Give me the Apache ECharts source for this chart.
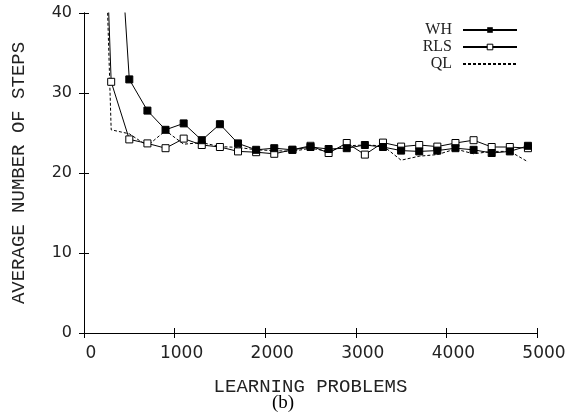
<!DOCTYPE html>
<html>
<head>
<meta charset="utf-8">
<script src="https://cdn.jsdelivr.net/npm/echarts@6/dist/echarts.min.js"></script>
<style>html,body{margin:0;padding:0;background:#fff;}#c{width:569px;height:415px;}</style>
</head>
<body>
<div id="c"></div>
<script>
// Data
var problems = [100, 300, 500, 700, 900, 1100, 1300, 1500, 1700, 1900, 2100, 2300, 2500,
                2700, 2900, 3100, 3300, 3500, 3700, 3900, 4100, 4300, 4500, 4700, 4900];
var whSteps  = [120, 67, 31.7, 27.8, 25.4, 26.2, 24.1, 26.1, 23.7, 22.9, 23.1, 22.9, 23.25,
                23.0, 23.1, 23.5, 23.25, 22.8, 22.7, 22.8, 23.1, 22.9, 22.5, 22.7, 23.4];
var rlsSteps = [95, 31.4, 24.2, 23.7, 23.1, 24.3, 23.5, 23.25, 22.7, 22.6, 22.4, 22.9, 23.4,
                22.5, 23.75, 22.3, 23.8, 23.3, 23.5, 23.3, 23.75, 24.1, 23.25, 23.25, 23.1];
var qlSteps  = [100, 25.4, 24.9, 23.4, 25.3, 23.6, 23.8, 23.3, 23.2, 22.9, 22.8, 22.7, 23.1,
                22.7, 23.4, 23.5, 23.4, 21.6, 22.1, 22.3, 23.0, 22.4, 22.7, 22.7, 21.4];
var seriesNames = ['WH', 'RLS', 'QL'];
var xTitle = 'LEARNING PROBLEMS';
var yTitle = 'AVERAGE NUMBER OF STEPS';
var caption = '(b)';

function pairs(ys) { return problems.map(function (x, i) { return [x, ys[i]]; }); }
function plain(v) { return String(v); }

var chart = echarts.init(document.getElementById('c'), null, {renderer: 'canvas'});
var frameLine = {show: true, lineStyle: {color: '#000', width: 1}};
chart.setOption({
  animation: false,
  backgroundColor: '#fff',
  grid: {left: 84, right: 32, top: 13, bottom: 82, containLabel: false},
  xAxis: [{
    type: 'value', min: 0, max: 5000, interval: 1000, position: 'bottom',
    axisLine: frameLine,
    axisTick: {show: true, inside: true, length: 5, lineStyle: {color: '#000'}},
    axisLabel: {margin: 12, padding: [0, 0, 0, 14], fontFamily: 'DejaVu Sans', fontSize: 17, color: '#222', formatter: plain},
    splitLine: {show: false},
    name: xTitle, nameLocation: 'middle', nameGap: 44,
    nameTextStyle: {fontFamily: 'Liberation Mono', fontSize: 19, color: '#222'}
  }, {
    type: 'value', min: 0, max: 5000, interval: 1000, position: 'top',
    axisLine: frameLine,
    axisTick: {show: true, inside: true, length: 5, lineStyle: {color: '#000'}},
    axisLabel: {show: false}, splitLine: {show: false}
  }],
  yAxis: [{
    type: 'value', min: 0, max: 40, interval: 10, position: 'left',
    axisLine: frameLine,
    axisTick: {show: true, inside: true, length: 5, lineStyle: {color: '#000'}},
    axisLabel: {margin: 12, padding: [4, 0, 0, 0], fontFamily: 'DejaVu Sans', fontSize: 16, color: '#222', formatter: plain},
    splitLine: {show: false},
    name: yTitle, nameLocation: 'middle', nameGap: 56, nameRotate: 90,
    nameTextStyle: {fontFamily: 'Liberation Mono', fontSize: 19, color: '#222'}
  }, {
    type: 'value', min: 0, max: 40, interval: 10, position: 'right',
    axisLine: frameLine,
    axisTick: {show: true, inside: true, length: 5, lineStyle: {color: '#000'}},
    axisLabel: {show: false}, splitLine: {show: false}
  }],
  legend: {
    orient: 'vertical', right: 46, top: 17, align: 'right',
    itemWidth: 54, itemHeight: 7, itemGap: 1,
    data: [
      {name: seriesNames[0]},
      {name: seriesNames[1], itemStyle: {color: '#fff', borderColor: '#000', borderWidth: 1}},
      {name: seriesNames[2], itemStyle: {opacity: 0}}
    ],
    textStyle: {fontFamily: 'Liberation Serif', fontSize: 16, color: '#222', padding: [0, 6, 0, 0]}
  },
  series: [{
    name: seriesNames[2], type: 'line', data: pairs(qlSteps),
    symbol: 'none', clip: true, z: 2,
    lineStyle: {color: '#000', width: 1, type: [3, 2]}, itemStyle: {color: '#000'}
  }, {
    name: seriesNames[1], type: 'line', data: pairs(rlsSteps),
    symbol: 'rect', symbolSize: 7, clip: true, z: 3,
    lineStyle: {color: '#000', width: 1},
    itemStyle: {color: '#fff', borderColor: '#000', borderWidth: 1}
  }, {
    name: seriesNames[0], type: 'line', data: pairs(whSteps),
    symbol: 'rect', symbolSize: 7, clip: true, z: 4,
    lineStyle: {color: '#000', width: 1},
    itemStyle: {color: '#000', borderColor: '#000'}
  }],
  graphic: [{
    type: 'text', left: 284 - 12, top: 394,
    style: {text: caption, fontFamily: 'Liberation Serif', fontSize: 19, fill: '#000'}
  }]
});
</script>
</body>
</html>
